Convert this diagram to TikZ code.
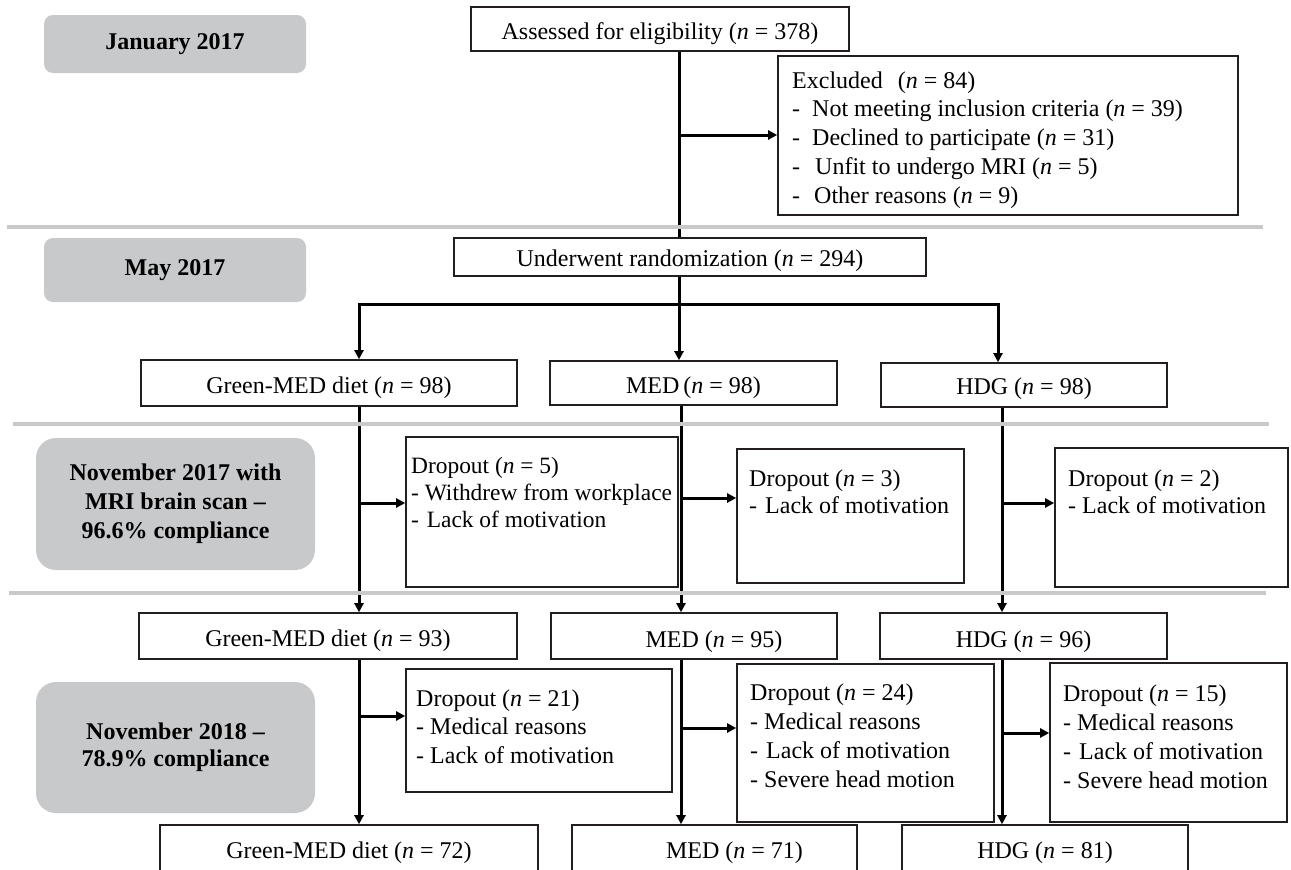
\documentclass[tikz,border=0pt]{standalone}
\usepackage{fontspec}
\setmainfont{Liberation Serif}
\usetikzlibrary{arrows.meta}
\definecolor{periodgray}{RGB}{200,201,203}
\definecolor{sepgray}{RGB}{200,201,203}
\definecolor{boxline}{RGB}{35,31,32}
\begin{document}
\begin{tikzpicture}[x=1pt,y=-1pt,
  fbox/.style={draw=boxline, line width=1.6pt, inner sep=0pt, fill=white, font=\fontsize{24pt}{28pt}\selectfont},
  period/.style={fill=periodgray, inner sep=0pt, align=center},
  txt/.style={inner sep=0pt, anchor=north west, align=left},
  conn/.style={line width=3pt, draw=black},
  arr/.style={conn, -{Triangle[length=9pt,width=9pt]}},
  sep/.style={line width=3.2pt, draw=sepgray}]
\useasboundingbox (0,0) rectangle (1291,870);
\clip (0,0) rectangle (1291,870);

% period boxes
\node[period, rounded corners=9pt, minimum width=262pt, minimum height=58pt, font=\fontsize{24pt}{29pt}\selectfont\bfseries] (jan) at (175,44) {January 2017};
\node[period, rounded corners=9pt, minimum width=262pt, minimum height=64pt, font=\fontsize{24pt}{29pt}\selectfont\bfseries] (may) at (175,270) {May 2017};
\node[period, rounded corners=20pt, minimum width=279pt, minimum height=132pt, font=\fontsize{24pt}{29pt}\selectfont\bfseries] (n17) at (175.5,504) {November 2017 with\\MRI brain scan –\\96.6\% compliance};
\node[period, rounded corners=20pt, minimum width=279pt, minimum height=131pt, font=\fontsize{24pt}{27pt}\selectfont\bfseries] (n18) at (175.5,747.5) {November 2018 –\\78.9\% compliance};

% single-line boxes
\node[fbox, minimum width=378pt, text height=32.5pt, text depth=11.5pt] (assess) at (660,29) {Assessed for eligibility (\textit{n} = 378)};
\node[fbox, minimum width=472pt, text height=28pt, text depth=10pt] (rand) at (690,257) {Underwent randomization (\textit{n} = 294)};
\node[fbox, minimum width=376pt, text height=33pt, text depth=13pt] (gm98) at (329,383) {Green-MED diet (\textit{n} = 98)};
\node[fbox, minimum width=287pt, text height=32pt, text depth=12pt] (med98) at (693.5,383) {MED\,(\textit{n} = 98)};
\node[fbox, minimum width=286pt, text height=31pt, text depth=13pt] (hdg98) at (1024,385) {HDG (\textit{n} = 98)};
\node[fbox, minimum width=378pt, text height=33pt, text depth=13pt] (gm93) at (328,636) {Green-MED diet (\textit{n} = 93)};
\node[fbox, minimum width=286pt, text height=34pt, text depth=12pt] (med95) at (694,636) {\hspace*{40pt}MED (\textit{n} = 95)};
\node[fbox, minimum width=287pt, text height=34pt, text depth=12pt] (hdg96) at (1023.5,636) {HDG (\textit{n} = 96)};
\node[fbox, minimum width=378pt, text height=33pt, text depth=32pt] (gm72) at (349,857.5) {Green-MED diet (\textit{n} = 72)};
\node[fbox, minimum width=285pt, text height=33pt, text depth=32pt] (med71) at (714.5,857.5) {\hspace*{40pt}MED (\textit{n} = 71)};
\node[fbox, minimum width=286pt, text height=33pt, text depth=32pt] (hdg81) at (1045,857.5) {HDG (\textit{n} = 81)};

% multi-line boxes
\node[fbox, minimum width=460pt, minimum height=159pt] (excl) at (1008,135.5) {};
\node[txt, font=\fontsize{24pt}{28.75pt}\selectfont] (exclt) at (792,68) {\rule{0pt}{20pt}Excluded\hspace{9pt} (\textit{n} = 84)\\
\makebox[20pt][l]{-}Not meeting inclusion criteria (\textit{n} = 39)\\
\makebox[20pt][l]{-}Declined to participate (\textit{n} = 31)\\
\makebox[23pt][l]{-}Unfit to undergo MRI (\textit{n} = 5)\\
\makebox[22pt][l]{-}Other reasons (\textit{n} = 9)};

\node[fbox, minimum width=272pt, minimum height=150pt] (d5) at (542,512) {};
\node[txt, font=\fontsize{23.4pt}{27pt}\selectfont] (d5t) at (411,453) {\rule{0pt}{20pt}Dropout (\textit{n} = 5)\\- Withdrew from workplace\\- \hspace{2pt}Lack of motivation};
\node[fbox, minimum width=227pt, minimum height=134pt] (d3) at (850.5,516) {};
\node[txt, font=\fontsize{24pt}{27pt}\selectfont] (d3t) at (749,466) {\rule{0pt}{20pt}Dropout (\textit{n} = 3)\\- \hspace{2pt}Lack of motivation};
\node[fbox, minimum width=233pt, minimum height=139pt] (d2) at (1171.5,517.5) {};
\node[txt, font=\fontsize{24pt}{27pt}\selectfont] (d2t) at (1068,466) {\rule{0pt}{20pt}Dropout (\textit{n} = 2)\\- Lack of motivation};
\node[fbox, minimum width=266pt, minimum height=123pt] (d21) at (539,730.5) {};
\node[txt, font=\fontsize{24pt}{28.5pt}\selectfont] (d21t) at (416,686) {\rule{0pt}{20pt}Dropout (\textit{n} = 21)\\- Medical reasons\\- Lack of motivation};
\node[fbox, minimum width=257pt, minimum height=158pt] (d24) at (865.5,743) {};
\node[txt, font=\fontsize{24pt}{29pt}\selectfont] (d24t) at (750,680) {\rule{0pt}{20pt}Dropout (\textit{n} = 24)\\- Medical reasons\\- \hspace{2pt}Lack of motivation\\- Severe head motion};
\node[fbox, minimum width=237pt, minimum height=159pt] (d15) at (1168.5,742.5) {};
\node[txt, font=\fontsize{24pt}{29pt}\selectfont] (d15t) at (1063,681) {\rule{0pt}{20pt}Dropout (\textit{n} = 15)\\- Medical reasons\\- \hspace{2pt}Lack of motivation\\- Severe head motion};

% connectors
\coordinate (jx) at (679,135);
\coordinate (bl) at (359,304);
\coordinate (bm) at (679,304);
\coordinate (brt) at (998,304);
\draw[conn] (679,0 |- assess.south) -- (679,0 |- rand.north);
\draw[arr] (jx) -- (excl.west |- jx);
\draw[conn, {Triangle[length=9pt,width=9pt]}-{Triangle[length=9pt,width=9pt]}] (bl |- gm98.north) -- (bl) -- (brt) -- (brt |- hdg98.north);
\draw[arr] (bm |- rand.south) -- (bm |- med98.north);

\coordinate (j5) at (359,503);
\coordinate (j3) at (681,498);
\coordinate (j2) at (1002,503);
\draw[arr] (j5 |- gm98.south) -- (j5 |- gm93.north);
\draw[arr] (j5) -- (d5.west |- j5);
\draw[arr] (j3 |- med98.south) -- (j3 |- med95.north);
\draw[arr] (j3) -- (d3.west |- j3);
\draw[arr] (j2 |- hdg98.south) -- (j2 |- hdg96.north);
\draw[arr] (j2) -- (d2.west |- j2);

\coordinate (j21) at (359,716);
\coordinate (j24) at (681,728);
\coordinate (j15) at (1002,733);
\draw[arr] (j21 |- gm93.south) -- (j21 |- gm72.north);
\draw[arr] (j21) -- (d21.west |- j21);
\draw[arr] (j24 |- med95.south) -- (j24 |- med71.north);
\draw[arr] (j24) -- (d24.west |- j24);
\draw[arr] (j15 |- hdg96.south) -- (j15 |- hdg81.north);
\draw[arr] (j15) -- (d15.west |- j15);

% separators
\draw[sep] (7,227) -- (1263,227);
\draw[sep] (13,424) -- (1269,424);
\draw[sep] (9,593) -- (1266,593);
\end{tikzpicture}
\end{document}
